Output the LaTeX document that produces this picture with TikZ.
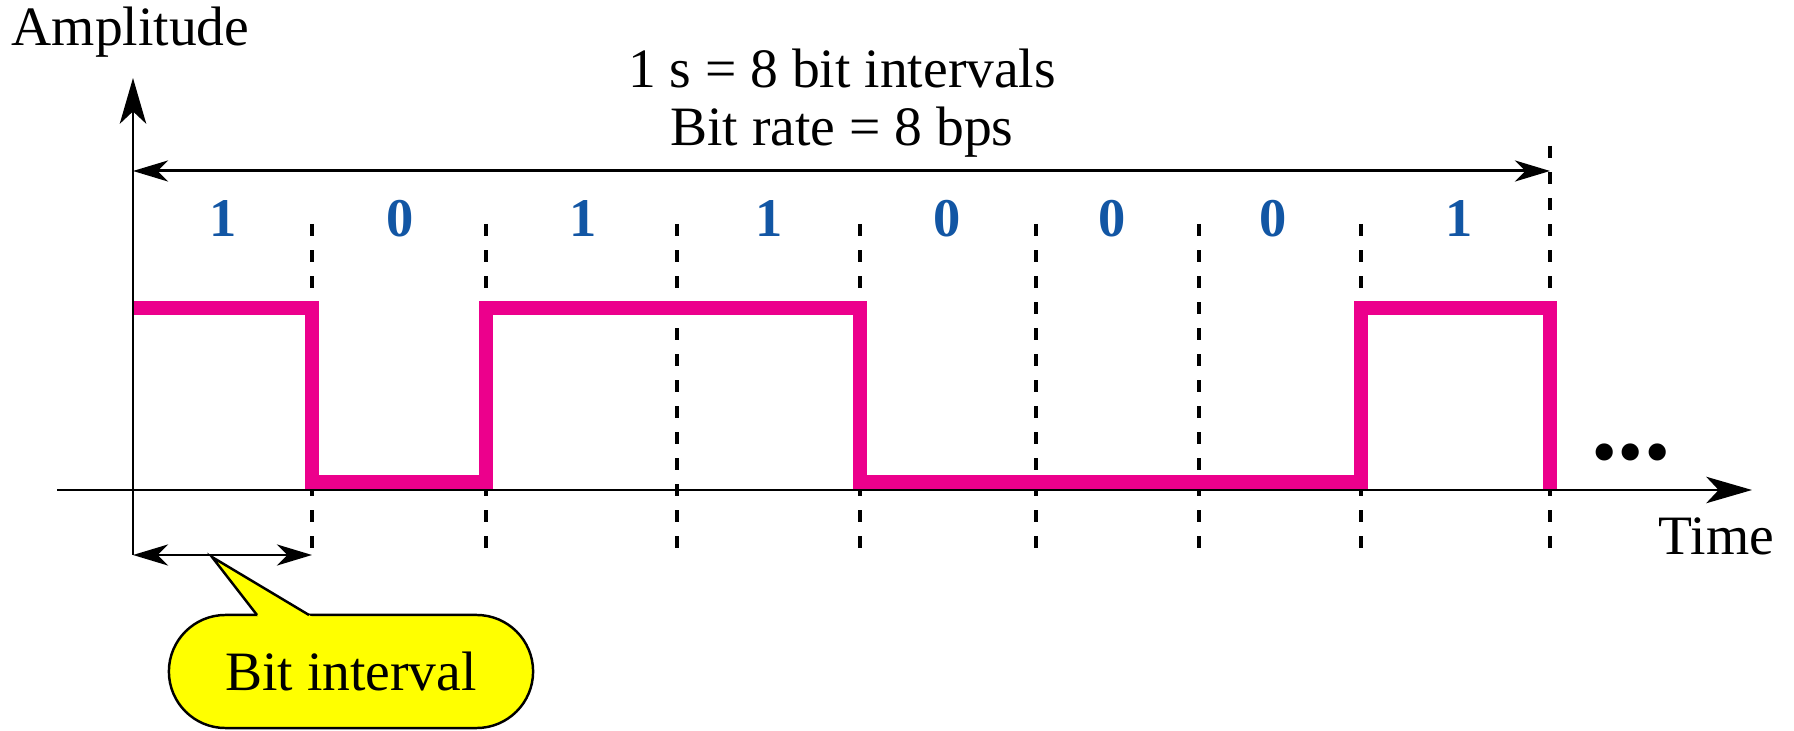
\documentclass[tikz,border=0pt]{standalone}
\usepackage{fontspec}
\setmainfont{Liberation Serif}
\usetikzlibrary{arrows.meta}
\definecolor{pulse}{RGB}{236,0,140}
\definecolor{bitblue}{RGB}{18,86,164}
\definecolor{calloutfill}{RGB}{255,255,0}
\begin{document}
\begin{tikzpicture}[x=0.01cm,y=-0.01cm,
  axis/.style={line width=0.85pt},
  bigtip/.style={-{Stealth[length=13pt,width=7.5pt,inset=3.5pt]}},
  dimarrow/.style={line width=0.85pt,{Stealth[length=10pt,width=6pt,inset=3pt]}-{Stealth[length=10pt,width=6pt,inset=3pt]}},
  gridline/.style={line width=0.9pt,dash pattern=on 0.12cm off 0.14cm},
  signal/.style={line width=4.2pt,pulse},
  lbl/.style={font=\fontsize{15.8}{16.2}\selectfont,inner sep=0pt},
  bitlbl/.style={font=\fontsize{15.5}{16}\selectfont\bfseries,text=bitblue,inner sep=0pt,anchor=base},
]
\useasboundingbox (0,0) rectangle (1794,731);

% key coordinates
\coordinate (ytop) at (133,78);
\coordinate (ybot) at (133,555);
\coordinate (xl) at (57,490);
\coordinate (xr) at (1752,490);
\coordinate (sl) at (133,171);
\coordinate (sr) at (1550,171);
\coordinate (bi) at (312,555);

% dashed bit boundaries
\foreach \i/\x in {1/312,2/486,3/677,4/860,5/1036,6/1199,7/1361}{
  \coordinate (t\i) at (\x,224);
  \coordinate (d\i) at (\x,558);
  \draw[gridline] (t\i) -- (d\i);
}
\coordinate (t8) at (1550,146);
\coordinate (d8) at (1550,558);
\draw[gridline] (t8) -- (d8);

% signal
\draw[signal] (133,308) -- (312,308) -- (312,482.6) -- (486,482.6) -- (486,308)
  -- (860,308) -- (860,482.6) -- (1361,482.6) -- (1361,308) -- (1550,308) -- (1550,490);

% axes
\draw[axis,bigtip] (xl) -- (xr);
\draw[axis,bigtip] (ybot) -- (ytop);

% arrows
\draw[dimarrow] (sl) -- (sr);
\draw[dimarrow] (ybot) -- (bi);

% texts
\node[lbl,anchor=base west] (amp) at (11,46) {Amplitude};
\node[lbl,anchor=base] (title1) at (842,88) {1 s = 8 bit intervals};
\node[lbl,anchor=base] (title2) at (842,146) {Bit rate = 8 bps};
\node[lbl,anchor=base west] (time) at (1658,555) {Time};
\node[font=\fontsize{30}{30}\selectfont\bfseries,inner sep=0pt,anchor=base] (dots) at (1631,460) {...};

\foreach \x/\b [count=\k] in {223/1,400/0,583/1,769/1,947/0,1112/0,1273/0,1459/1}{
  \node[bitlbl] (bit\k) at (\x,237) {\b};
}

% callout
\node[draw,line width=0.7pt,fill=calloutfill,rounded corners=0.565cm,
  minimum width=3.64cm,minimum height=1.13cm,inner sep=0pt,
  font=\fontsize{15.8}{16.2}\selectfont] (bubble) at (351,671.5) {Bit interval};
\coordinate (ptip) at (212,557);
\fill[calloutfill] (259.3,618) -- (ptip) -- (314,618) -- cycle;
\draw[line width=0.7pt] (257,615) -- (ptip) -- (309,615);
\end{tikzpicture}
\end{document}
